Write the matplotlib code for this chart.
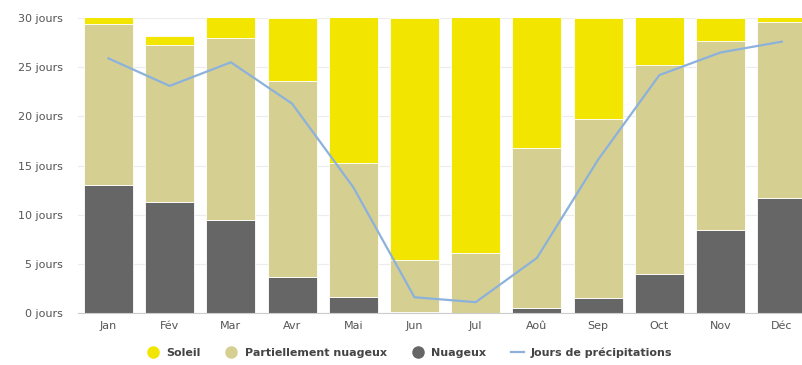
import matplotlib.pyplot as plt
import numpy as np
from matplotlib.lines import Line2D

mois = ['Jan', 'Fév', 'Mar', 'Avr', 'Mai', 'Jun', 'Jul', 'Aoû', 'Sep', 'Oct', 'Nov', 'Déc']
nuageux = [13.0, 11.3, 9.5, 3.7, 1.6, 0.1, 0.0, 0.5, 1.5, 4.0, 8.4, 11.7]
partiel = [16.4, 16.0, 18.5, 19.9, 13.7, 5.3, 6.1, 16.3, 18.2, 21.2, 19.3, 17.9]
soleil = [1.6, 0.9, 3.0, 6.4, 15.7, 24.6, 24.9, 14.2, 10.3, 5.8, 2.3, 1.4]
precip = [25.9, 23.1, 25.5, 21.3, 12.8, 1.6, 1.1, 5.6, 15.6, 24.2, 26.5, 27.6]

c_sun = '#f2e500'
c_part = '#d6cf92'
c_dark = '#666666'
c_line = '#8cb2dc'
c_txt = '#555555'

fig = plt.figure(figsize=(8.02, 3.65), dpi=100)
ax = fig.add_axes([0.097, 0.1425, 0.903, 0.808])

x = np.arange(len(mois))
w = 0.8
nua = np.array(nuageux)
par = np.array(partiel)
ax.bar(x, nua, w, color=c_dark, edgecolor='white', linewidth=0.6, zorder=2)
ax.bar(x, par, w, bottom=nua, color=c_part, edgecolor='white', linewidth=0.6, zorder=2)
ax.bar(x, soleil, w, bottom=nua + par, color=c_sun, edgecolor='white', linewidth=0.6, zorder=2)
ax.plot(x, precip, color=c_line, linewidth=1.6, zorder=3)

ax.set_ylim(0, 30)
ax.set_xlim(-0.5, 11.33)
ax.set_yticks(range(0, 31, 5))
ax.set_yticklabels([f'{v} jours' for v in range(0, 31, 5)], color=c_txt, fontsize=8)
ax.set_xticks(x)
ax.set_xticklabels(mois, color=c_txt, fontsize=8)
ax.tick_params(axis='x', length=0, pad=6)
ax.tick_params(axis='y', length=0, pad=11)
ax.grid(axis='y', color='#ececec', linewidth=0.8, zorder=0)
for s in ['top', 'right', 'left']:
    ax.spines[s].set_visible(False)
ax.spines['bottom'].set_color('#cccccc')

handles = [
    Line2D([], [], marker='o', color='none', markerfacecolor=c_sun, markeredgecolor=c_sun, markersize=8),
    Line2D([], [], marker='o', color='none', markerfacecolor=c_part, markeredgecolor=c_part, markersize=8),
    Line2D([], [], marker='o', color='none', markerfacecolor=c_dark, markeredgecolor=c_dark, markersize=8),
    Line2D([], [], color=c_line, linewidth=1.6),
]
labels = ['Soleil', 'Partiellement nuageux', 'Nuageux', 'Jours de précipitations']
leg = fig.legend(handles, labels, loc='center', bbox_to_anchor=(0.51, 0.033), ncol=4,
                 frameon=False, fontsize=8, handlelength=1.2, handletextpad=0.6, columnspacing=2.2)
for t in leg.get_texts():
    t.set_color('#444444')
    t.set_fontweight('semibold')

fig.savefig('out.png', dpi=100)
